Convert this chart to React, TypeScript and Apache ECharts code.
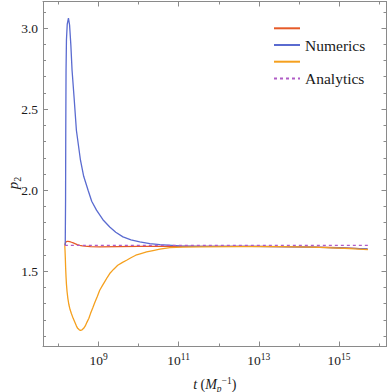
import React, { useEffect, useRef } from "react";
import * as echarts from "echarts";

// x values are log10(t / Mp^-1)
const X_MIN = 7.615;
const X_MAX = 16.185;
const Y_MIN = 1.036;
const Y_MAX = 3.164;

const xMajorTicks = [9, 11, 13, 15];
const xMinorTicks = [8, 10, 12, 14, 16];
const yMajorTicks = [1.5, 2.0, 2.5, 3.0];
const yMinorTicks = [1.1, 1.2, 1.3, 1.4, 1.6, 1.7, 1.8, 1.9, 2.1, 2.2, 2.3, 2.4, 2.6, 2.7, 2.8, 2.9, 3.1];

const redLogT = [8.16, 8.17, 8.18, 8.21, 8.24, 8.28, 8.325, 8.37, 8.41, 8.47, 8.53, 8.6, 8.66, 8.8, 9.03, 9.5, 10.0, 11.0, 12.0, 13.0, 14.0, 14.5, 15.0, 15.4, 15.72];
const redP = [1.66, 1.672, 1.679, 1.684, 1.685, 1.683, 1.679, 1.675, 1.671, 1.665, 1.66, 1.657, 1.655, 1.652, 1.651, 1.652, 1.653, 1.654, 1.654, 1.653, 1.651, 1.649, 1.645, 1.641, 1.637];

const blueLogT = [8.17, 8.178, 8.183, 8.19, 8.2, 8.22, 8.25, 8.278, 8.31, 8.34, 8.395, 8.448, 8.55, 8.63, 8.74, 8.83, 8.95, 9.11, 9.28, 9.43, 9.61, 9.81, 10.03, 10.28, 10.53, 11.03, 11.53, 12.78, 14.03, 14.78, 15.71];
const blueP = [1.66, 1.938, 2.37, 2.74, 2.926, 3.025, 3.062, 3.019, 2.895, 2.74, 2.556, 2.37, 2.185, 2.086, 2.0, 1.932, 1.877, 1.818, 1.773, 1.741, 1.712, 1.694, 1.681, 1.671, 1.664, 1.657, 1.654, 1.653, 1.651, 1.646, 1.638];

const orangeLogT = [8.158, 8.165, 8.172, 8.18, 8.19, 8.2, 8.215, 8.235, 8.26, 8.29, 8.325, 8.37, 8.41, 8.45, 8.48, 8.52, 8.55, 8.59, 8.63, 8.67, 8.71, 8.76, 8.8, 8.86, 8.91, 8.97, 9.03, 9.1, 9.16, 9.22, 9.28, 9.38, 9.48, 9.6, 9.7, 9.82, 9.93, 10.06, 10.2, 10.36, 10.53, 10.78, 11.1, 11.53, 12.5, 13.5, 14.03, 14.5, 15.0, 15.4, 15.72];
const orangeP = [1.66, 1.625, 1.58, 1.52, 1.465, 1.42, 1.375, 1.333, 1.295, 1.264, 1.238, 1.208, 1.185, 1.162, 1.148, 1.139, 1.136, 1.139, 1.148, 1.163, 1.185, 1.21, 1.239, 1.276, 1.309, 1.345, 1.383, 1.413, 1.438, 1.463, 1.486, 1.513, 1.537, 1.555, 1.568, 1.585, 1.599, 1.609, 1.619, 1.628, 1.636, 1.646, 1.649, 1.651, 1.652, 1.652, 1.651, 1.647, 1.643, 1.638, 1.634];

const analyticsLogT = [8.16, 15.72];
const analyticsP = [1.66, 1.66];

const FONT = "Liberation Serif";
const FRAME = "#8a8a8a";
const TEXT = "#1a1a1a";

function zip(xs: number[], ys: number[]) {
  return xs.map((x, i) => [x, ys[i]]);
}

export default function App() {
  const ref = useRef<HTMLDivElement>(null);
  useEffect(() => {
    if (!ref.current) return;
    const chart = echarts.init(ref.current, undefined, { renderer: "svg" });
    const tickStyle = { color: FRAME, width: 1 };
    const xBase = {
      type: "value",
      min: X_MIN,
      max: X_MAX,
      splitLine: { show: false },
    };
    const yBase = {
      type: "value",
      min: Y_MIN,
      max: Y_MAX,
      splitLine: { show: false },
    };
    const option: any = {
      animation: false,
      grid: { left: 43, right: 3.5, top: 1.5, bottom: 45.5, containLabel: false, outerBoundsMode: "none" },
      legend: {
        orient: "vertical",
        left: 273,
        top: 24.3,
        padding: 0,
        itemWidth: 26,
        itemHeight: 10,
        itemGap: 4.7,
        selectedMode: false,
        itemStyle: { opacity: 0, borderWidth: 0 },
        data: ["Red", "Numerics", "Orange", "Analytics"],
        formatter: (name: string) => (name === "Red" || name === "Orange" ? "" : name),
        textStyle: { fontFamily: FONT, fontSize: 15.5, color: TEXT, lineHeight: 10, padding: [0, 0, 0, 0] },
      },
      xAxis: [
        {
          ...xBase,
          position: "bottom",
          axisLine: { show: true, lineStyle: tickStyle },
          axisTick: { show: true, inside: true, length: 5, customValues: xMajorTicks, lineStyle: tickStyle },
          axisLabel: {
            show: true,
            customValues: xMajorTicks,
            margin: 5,
            formatter: (v: number) => `{b|10}{s|${Math.round(v)}}`,
            rich: {
              b: { fontFamily: FONT, fontSize: 13.5, color: TEXT, lineHeight: 16, verticalAlign: "bottom" },
              s: { fontFamily: FONT, fontSize: 9.5, color: TEXT, lineHeight: 10, verticalAlign: "top" },
            },
          },
          name: "{i|t} ({i|M}{sub|p}{sup|−1})",
          nameLocation: "middle",
          nameGap: 29,
          nameTextStyle: {
            fontFamily: FONT,
            fontSize: 14,
            color: TEXT,
            rich: {
              i: { fontFamily: FONT, fontSize: 14, fontStyle: "italic", color: TEXT, lineHeight: 18, verticalAlign: "middle" },
              sub: { fontFamily: FONT, fontSize: 9.5, fontStyle: "italic", color: TEXT, lineHeight: 9, verticalAlign: "bottom" },
              sup: { fontFamily: FONT, fontSize: 9.5, color: TEXT, lineHeight: 9, verticalAlign: "top" },
            },
          },
        },
        {
          ...xBase,
          position: "bottom",
          axisLine: { show: false },
          axisTick: { show: true, inside: true, length: 3, customValues: xMinorTicks, lineStyle: tickStyle },
          axisLabel: { show: false },
        },
        {
          ...xBase,
          position: "top",
          axisLine: { show: true, lineStyle: tickStyle },
          axisTick: { show: true, inside: true, length: 5, customValues: xMajorTicks, lineStyle: tickStyle },
          axisLabel: { show: false },
        },
        {
          ...xBase,
          position: "top",
          axisLine: { show: false },
          axisTick: { show: true, inside: true, length: 3, customValues: xMinorTicks, lineStyle: tickStyle },
          axisLabel: { show: false },
        },
      ],
      yAxis: [
        {
          ...yBase,
          position: "left",
          axisLine: { show: true, lineStyle: tickStyle },
          axisTick: { show: true, inside: true, length: 5, customValues: yMajorTicks, lineStyle: tickStyle },
          axisLabel: {
            show: true,
            customValues: yMajorTicks,
            margin: 5,
            formatter: (v: number) => v.toFixed(1),
            fontFamily: FONT,
            fontSize: 13.5,
            color: TEXT,
          },
        },
        {
          ...yBase,
          position: "left",
          axisLine: { show: false },
          axisTick: { show: true, inside: true, length: 3, customValues: yMinorTicks, lineStyle: tickStyle },
          axisLabel: { show: false },
        },
        {
          ...yBase,
          position: "right",
          axisLine: { show: true, lineStyle: tickStyle },
          axisTick: { show: true, inside: true, length: 5, customValues: yMajorTicks, lineStyle: tickStyle },
          axisLabel: { show: false },
        },
        {
          ...yBase,
          position: "right",
          axisLine: { show: false },
          axisTick: { show: true, inside: true, length: 3, customValues: yMinorTicks, lineStyle: tickStyle },
          axisLabel: { show: false },
        },
      ],
      graphic: [
        {
          type: "text",
          x: 13,
          y: 183,
          rotation: Math.PI / 2,
          style: {
            text: "{i|p}{sub|2}",
            align: "center",
            verticalAlign: "middle",
            rich: {
              i: { fontFamily: FONT, fontSize: 15, fontStyle: "italic", fill: TEXT, lineHeight: 18, verticalAlign: "middle" },
              sub: { fontFamily: FONT, fontSize: 10, fill: TEXT, lineHeight: 9, verticalAlign: "bottom" },
            },
          },
        },
      ],
      series: [
        {
          name: "Red",
          type: "line",
          symbol: "none",
          data: zip(redLogT, redP),
          lineStyle: { color: "#E65A28", width: 1.3 },
          itemStyle: { color: "#E65A28" },
        },
        {
          name: "Numerics",
          type: "line",
          symbol: "none",
          data: zip(blueLogT, blueP),
          lineStyle: { color: "#5A6BD0", width: 1.3 },
          itemStyle: { color: "#5A6BD0" },
        },
        {
          name: "Orange",
          type: "line",
          symbol: "none",
          data: zip(orangeLogT, orangeP),
          lineStyle: { color: "#F5A01E", width: 1.3 },
          itemStyle: { color: "#F5A01E" },
        },
        {
          name: "Analytics",
          type: "line",
          symbol: "none",
          data: zip(analyticsLogT, analyticsP),
          lineStyle: { color: "#B05CC6", width: 1.3, type: [3, 3] },
          itemStyle: { color: "#B05CC6" },
        },
      ],
    };
    chart.setOption(option);
    return () => chart.dispose();
  }, []);
  return (
    <div
      ref={ref}
      style={{ position: "fixed", left: 0, top: 0, width: 390, height: 392, background: "#fff" }}
    />
  );
}
